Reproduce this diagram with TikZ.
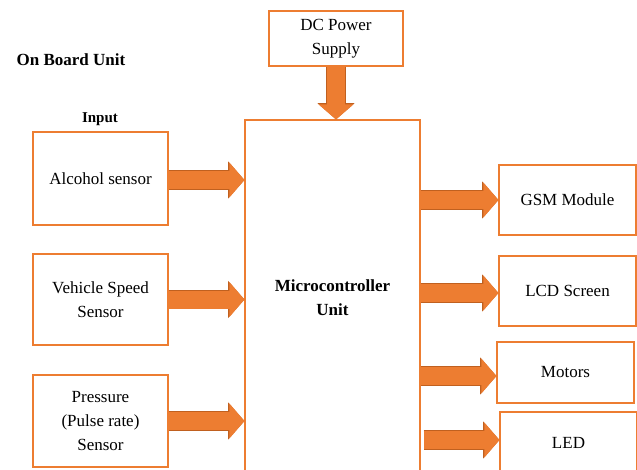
\documentclass[tikz,border=0pt]{standalone}
\usepackage{fontspec}
\setmainfont{Liberation Serif}
\usetikzlibrary{arrows.meta}

\definecolor{boxline}{HTML}{ED7D31}
\definecolor{arrowfill}{HTML}{ED7D31}
\definecolor{arrowedge}{HTML}{C0601F}

\begin{document}
\begin{tikzpicture}[x=1pt, y=-1pt,
  block/.style={draw=boxline, line width=1.1pt, align=center, inner sep=2pt,
    font=\fontsize{17}{24}\selectfont},
  title/.style={font=\bfseries\fontsize{17}{24}\selectfont},
  fatarrow/.style={
    preaction={draw=arrowedge, line width=19.6pt,
      -{Triangle[length=16.4pt,width=36.4pt]}},
    draw=arrowfill, line width=18pt, -{Triangle[length=15pt,width=34pt]}}]

  \clip (0,0) rectangle (637,469);

  % labels
  \node[title] (obu) at (71,60) {On Board Unit};
  \node[title, font=\bfseries\fontsize{15}{18}\selectfont] (inp) at (100,119) {Input};

  % supply and controller
  \node[block, minimum width=134pt, minimum height=55pt] (dc) at (336,38.5) {DC Power\\Supply};
  \node[block, minimum width=175pt, minimum height=356pt] (mcu) at (332.5,298)
    {\bfseries Microcontroller\\\bfseries Unit};

  % inputs
  \node[block, minimum width=135pt, minimum height=93pt] (alc) at (100.5,178.5) {Alcohol sensor};
  \node[block, minimum width=135pt, minimum height=91pt] (veh) at (100.5,299.5) {Vehicle Speed\\Sensor};
  \node[block, minimum width=135pt, minimum height=92pt] (prs) at (100.5,421) {Pressure\\(Pulse rate)\\Sensor};

  % outputs
  \node[block, minimum width=137pt, minimum height=70pt] (gsm) at (567.5,200) {GSM Module};
  \node[block, minimum width=137pt, minimum height=70pt] (lcd) at (567.5,291) {LCD Screen};
  \node[block, minimum width=137pt, minimum height=61pt] (mot) at (565.5,372.5) {Motors};
  \node[block, minimum width=137pt, minimum height=62pt] (led) at (568.5,443) {LED};

  % block arrows
  \draw[fatarrow] (dc.south) -- (dc.south |- mcu.north);
  \draw[fatarrow] ([yshift=-1.5pt]alc.east) -- ([yshift=-1.5pt]alc.east -| mcu.west);
  \draw[fatarrow] (veh.east) -- (veh.east -| mcu.west);
  \draw[fatarrow] (prs.east) -- (prs.east -| mcu.west);
  \draw[fatarrow] (mcu.east |- gsm.west) -- (gsm.west);
  \draw[fatarrow] ([yshift=-2pt]mcu.east |- lcd.west) -- ([yshift=-2pt]lcd.west);
  \draw[fatarrow] ([yshift=-3.5pt]mcu.east |- mot.west) -- ([yshift=-3.5pt]mot.west);
  \draw[fatarrow] ([xshift=3pt,yshift=3pt]mcu.east |- led.west) -- ([yshift=3pt]led.west);
\end{tikzpicture}
\end{document}
